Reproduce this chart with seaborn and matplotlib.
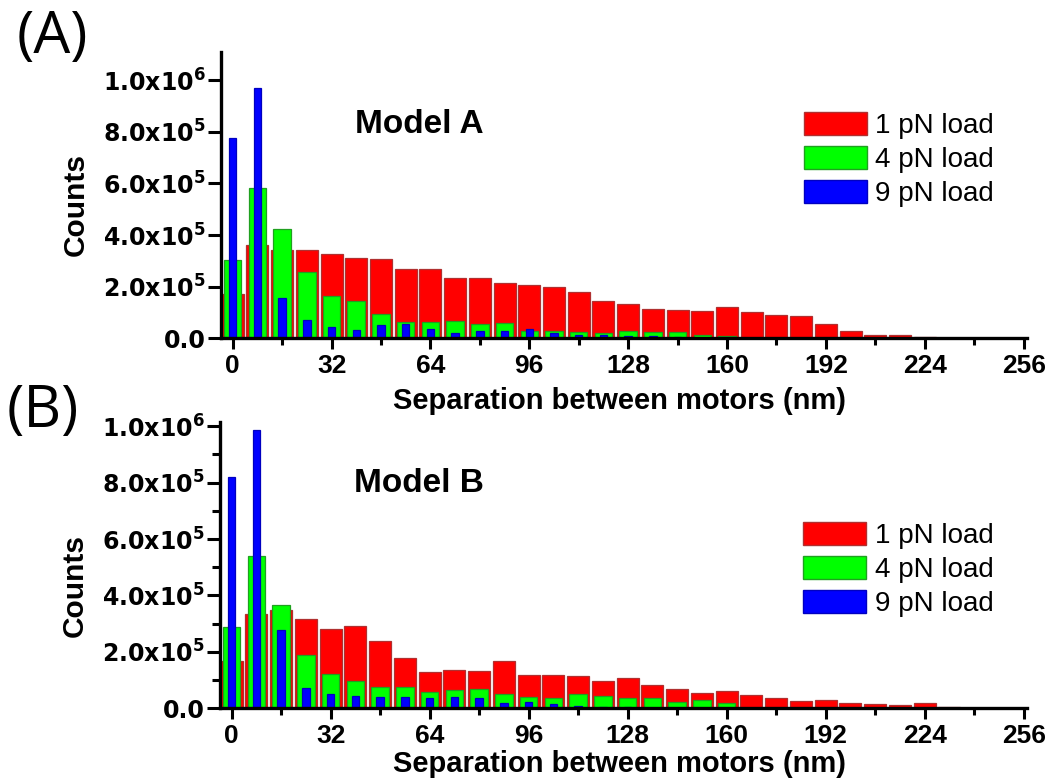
import numpy as np
import matplotlib
matplotlib.use("Agg")
import matplotlib.pyplot as plt
from matplotlib.patches import Patch
from matplotlib.ticker import FuncFormatter, MultipleLocator, FixedLocator
import seaborn as sns

# ---------------- data (counts) ----------------
bins = [0, 8, 16, 24, 32, 40, 48, 56, 64, 72, 80, 88, 96, 104, 112, 120,
        128, 136, 144, 152, 160, 168, 176, 184, 192, 200, 208, 216, 224, 232]

a_1pN = [172e3, 361e3, 344e3, 344e3, 325e3, 312e3, 306e3, 268e3, 268e3, 235e3,
         232e3, 213e3, 206e3, 200e3, 181e3, 144e3, 135e3, 114e3, 111e3, 108e3,
         121e3, 104e3, 90e3, 86e3, 57e3, 28e3, 13e3, 15e3, 4e3, 1e3]
a_4pN = [303e3, 584e3, 423e3, 257e3, 166e3, 144e3, 94e3, 62e3, 62e3, 67e3,
         55e3, 58e3, 30e3, 30e3, 26e3, 22e3, 30e3, 26e3, 26e3, 13e3,
         10e3, 0, 0, 0, 0, 0, 0, 0, 0, 0]
a_9pN = [774e3, 971e3, 155e3, 71e3, 45e3, 32e3, 52e3, 54e3, 37e3, 22e3,
         30e3, 30e3, 35e3, 22e3, 13e3, 13e3, 8e3, 8e3, 5e3, 0,
         0, 0, 0, 0, 0, 0, 0, 0, 0, 0]

b_1pN = [166e3, 333e3, 350e3, 315e3, 282e3, 293e3, 238e3, 178e3, 127e3, 137e3,
         131e3, 166e3, 119e3, 119e3, 114e3, 96e3, 106e3, 82e3, 70e3, 54e3,
         61e3, 46e3, 38e3, 27e3, 28e3, 18e3, 14e3, 13e3, 17e3, 4e3]
b_4pN = [287e3, 539e3, 367e3, 190e3, 121e3, 97e3, 74e3, 74e3, 59e3, 64e3,
         68e3, 52e3, 40e3, 38e3, 50e3, 42e3, 38e3, 35e3, 24e3, 31e3,
         18e3, 0, 0, 0, 0, 0, 0, 0, 0, 0]
b_9pN = [820e3, 988e3, 278e3, 71e3, 50e3, 44e3, 40e3, 40e3, 38e3, 40e3,
         36e3, 17e3, 23e3, 14e3, 8e3, 6e3, 3e3, 0, 0, 0,
         0, 0, 0, 0, 0, 0, 0, 0, 0, 0]

series_labels = ["1 pN load", "4 pN load", "9 pN load"]
x_ticks = [0, 32, 64, 96, 128, 160, 192, 224, 256]
x_label = "Separation between motors (nm)"
y_label = "Counts"

# ---------------- styling ----------------
sns.set_theme(style="ticks")
plt.rcParams["font.family"] = ["Liberation Sans", "DejaVu Sans"]
plt.rcParams["mathtext.default"] = "regular"
for k in ["text.color", "axes.labelcolor", "xtick.color", "ytick.color",
          "axes.edgecolor"]:
    plt.rcParams[k] = "black"

colors = ["#ff0000", "#00ff00", "#0000ff"]
edges = ["#b03030", "#20a020", "#0000c0"]
widths = [0.89, 0.71, 0.30]

fig = plt.figure(figsize=(10.52, 7.78), dpi=100)
axA = fig.add_axes([0.210, 0.565, 0.766, 0.368])
axB = fig.add_axes([0.209, 0.0896, 0.767, 0.368])


def sci_fmt(v, pos):
    if abs(v) < 1:
        return "0.0"
    exp = int(np.floor(np.log10(abs(v)) + 1e-9))
    mant = v / 10 ** exp
    return f"{mant:.1f}x10$^{{{exp}}}$"


def draw(ax, data, ytop, model, minor_y, leg_y, model_y):
    for vals, c, ec, w in zip(data, colors, edges, widths):
        sns.barplot(x=bins, y=vals, native_scale=True, width=w, color=c,
                    saturation=1, edgecolor=ec, linewidth=0.9,
                    errorbar=None, ax=ax)
    ax.set_xlim(-3.8, 257)
    ax.set_ylim(0, ytop)
    ax.xaxis.set_major_locator(FixedLocator(x_ticks))
    ax.xaxis.set_minor_locator(FixedLocator([16, 48, 80, 112, 144, 176, 208, 240]))
    ax.yaxis.set_major_locator(MultipleLocator(2e5))
    if minor_y:
        ax.yaxis.set_minor_locator(MultipleLocator(1e5))
    else:
        ax.yaxis.set_minor_locator(FixedLocator([]))
    ax.yaxis.set_major_formatter(FuncFormatter(sci_fmt))
    ax.set_xticklabels([str(t) for t in x_ticks])
    for s in ["top", "right"]:
        ax.spines[s].set_visible(False)
    for s in ["left", "bottom"]:
        ax.spines[s].set_linewidth(2.4)
        ax.spines[s].set_color("black")
    ax.tick_params(axis="x", which="major", direction="out", length=7.8,
                   width=2.2, color="black", pad=3.5, labelsize=19)
    ax.tick_params(axis="y", which="major", direction="out", length=9.5,
                   width=2.2, color="black", pad=1.5)
    ax.tick_params(axis="x", which="minor", direction="out", length=5,
                   width=2.2, color="black")
    ax.tick_params(axis="y", which="minor", direction="out", length=6,
                   width=2.2, color="black")
    for lab in ax.get_xticklabels():
        lab.set_fontweight("bold")
        lab.set_fontfamily("Liberation Sans")
        lab.set_color("black")
    for lab in ax.get_yticklabels():
        lab.set_fontweight("bold")
        lab.set_fontfamily("DejaVu Sans")
        lab.set_fontsize(17)
        lab.set_color("black")
    ax.set_xlabel(x_label, fontsize=21, fontweight="bold", color="black")
    ax.set_ylabel(y_label, fontsize=21.5, fontweight="bold", color="black")
    ax.text(0.166, model_y, model, transform=ax.transAxes, ha="left",
            va="center", fontsize=24, fontweight="bold", color="black")
    handles = [Patch(facecolor=c, edgecolor=ec, linewidth=1.0)
               for c, ec in zip(colors, edges)]
    leg = ax.legend(handles, series_labels, loc="upper left",
                    bbox_to_anchor=(0.723, leg_y), frameon=False, fontsize=20,
                    handlelength=2.27, handleheight=0.9, labelspacing=0.26,
                    handletextpad=0.3, borderpad=0, borderaxespad=0)
    for t in leg.get_texts():
        t.set_color("black")
    ax.set_facecolor("white")


draw(axA, [a_1pN, a_4pN, a_9pN], 1.108e6, "Model A", False, 0.792, 0.746)
draw(axB, [b_1pN, b_4pN, b_9pN], 1.015e6, "Model B", True, 0.652, 0.786)

axA.yaxis.set_label_coords(-0.163, 0.467)
axB.yaxis.set_label_coords(-0.163, 0.43)
axA.xaxis.set_label_coords(0.495, -0.168)
axB.xaxis.set_label_coords(0.495, -0.147)

fig.text(17 / 1052, 1 - 8 / 778, "(A)", ha="left", va="top",
         fontsize=42, family="Open Sans", color="black")
fig.text(7 / 1052, 1 - 383 / 778, "(B)", ha="left", va="top",
         fontsize=42, family="Open Sans", color="black")

fig.savefig("out.png", dpi=100, facecolor="white")
